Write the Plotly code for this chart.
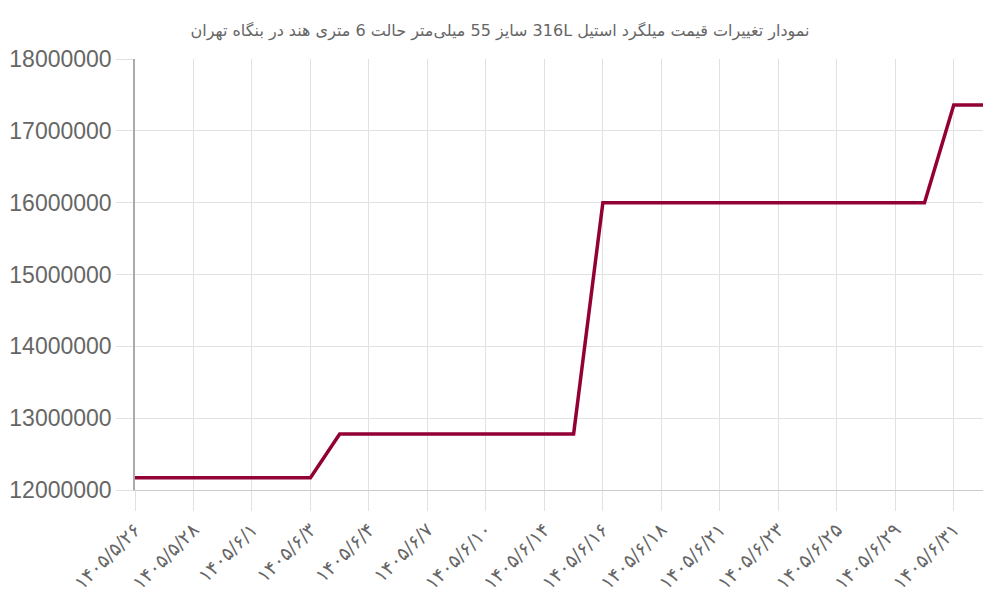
import plotly.graph_objects as go

# Trading dates (Jalali, Persian digits) and price per kg in rial
dates = [
    "۱۴۰۵/۵/۲۶", "۱۴۰۵/۵/۲۷", "۱۴۰۵/۵/۲۸", "۱۴۰۵/۵/۳۱", "۱۴۰۵/۶/۱",
    "۱۴۰۵/۶/۲", "۱۴۰۵/۶/۳", "۱۴۰۵/۶/۳", "۱۴۰۵/۶/۴", "۱۴۰۵/۶/۵",
    "۱۴۰۵/۶/۷", "۱۴۰۵/۶/۸", "۱۴۰۵/۶/۱۰", "۱۴۰۵/۶/۱۱", "۱۴۰۵/۶/۱۴",
    "۱۴۰۵/۶/۱۵", "۱۴۰۵/۶/۱۶", "۱۴۰۵/۶/۱۷", "۱۴۰۵/۶/۱۸", "۱۴۰۵/۶/۲۰",
    "۱۴۰۵/۶/۲۱", "۱۴۰۵/۶/۲۲", "۱۴۰۵/۶/۲۳", "۱۴۰۵/۶/۲۴", "۱۴۰۵/۶/۲۵",
    "۱۴۰۵/۶/۲۸", "۱۴۰۵/۶/۲۹", "۱۴۰۵/۶/۳۰", "۱۴۰۵/۶/۳۱", "۱۴۰۵/۷/۱",
]
prices = [
    12170000, 12170000, 12170000, 12170000, 12170000,
    12170000, 12170000, 12780000, 12780000, 12780000,
    12780000, 12780000, 12780000, 12780000, 12780000,
    12780000, 16000000, 16000000, 16000000, 16000000,
    16000000, 16000000, 16000000, 16000000, 16000000,
    16000000, 16000000, 16000000, 17360000, 17360000,
]
y_ticks = [12000000, 13000000, 14000000, 15000000, 16000000, 17000000, 18000000]

title = "نمودار تغییرات قیمت میلگرد استیل 316L سایز 55 میلی‌متر حالت 6 متری هند در بنگاه تهران"

idx = list(range(len(dates)))
grid = "#e1e1e1"

fig = go.Figure()
fig.add_trace(go.Scatter(
    x=idx,
    y=prices,
    mode="lines",
    line=dict(color="#930035", width=3.5),
    showlegend=False,
))

# page body has an 8px margin, so the figure is a bit smaller than the window
fig.update_layout(
    width=984,
    height=584,
    margin=dict(l=127, r=9, t=51, b=102),
    plot_bgcolor="white",
    paper_bgcolor="white",
    font=dict(family="DejaVu Sans", color="#666666"),
    title=dict(
        text="\u202b" + title + "\u202c",
        x=0.5, xanchor="center",
        y=0.962, yanchor="middle", yref="container",
        font=dict(family="DejaVu Sans", size=16, color="#666666"),
    ),
)

fig.update_xaxes(
    range=[0, len(dates) - 1],
    tickvals=idx[::2],
    ticktext=dates[::2],
    tickangle=-45,
    tickfont=dict(family="DejaVu Sans", size=19, color="#666666"),
    showgrid=True, gridcolor=grid, gridwidth=1,
    ticks="outside", ticklen=20, tickcolor=grid,
    showline=True, linecolor="#cccccc", linewidth=1,
    zeroline=False,
    automargin=False,
)
fig.update_yaxes(
    range=[12000000, 18000000],
    tickvals=y_ticks,
    ticktext=[str(v) for v in y_ticks],
    tickfont=dict(family="Liberation Sans", size=23, color="#666666"),
    showgrid=True, gridcolor=grid, gridwidth=1,
    ticks="outside", ticklen=17, tickcolor=grid,
    showline=True, linecolor="#aaaaaa", linewidth=1.5,
    zeroline=False,
    automargin=False,
)

fig.write_html("out.html")
